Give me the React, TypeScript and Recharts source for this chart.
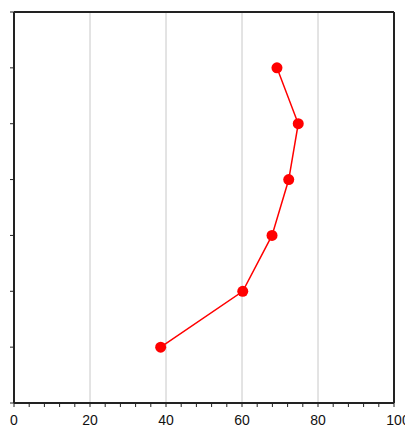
import React from "react";
import { LineChart, Line, XAxis, YAxis, ReferenceLine } from "recharts";

const xValues = [38.6, 60.2, 67.9, 72.3, 74.8, 69.2];
const yValues = [1, 2, 3, 4, 5, 6];
const xTicks = [0, 4, 8, 12, 16, 20, 24, 28, 32, 36, 40, 44, 48, 52, 56, 60, 64, 68, 72, 76, 80, 84, 88, 92, 96, 100];
const xLabels = [0, 20, 40, 60, 80, 100];
const yTicks = [0, 1, 2, 3, 4, 5, 6, 7];
const gridX = [20, 40, 60, 80];

const data = xValues.map((x, i) => ({ x, y: yValues[i] }));

const XTick = (props: any) => {
  const { x, y, payload } = props;
  if (!xLabels.includes(payload.value)) return <g />;
  const dx = payload.value === 100 ? 4 : 0;
  return (
    <text x={x + dx} y={y} dy="0.71em" textAnchor="middle" fontSize={14} fill="#111" fontFamily="Liberation Sans, Arial, sans-serif">
      {payload.value}
    </text>
  );
};

const EmptyTick = () => <g />;

export default function App() {
  return (
    <div style={{ position: "absolute", left: 0, top: 0, width: 405, height: 426, background: "#fff", overflow: "hidden" }}>
      <LineChart width={405} height={426} data={data} margin={{ top: 12, right: 11, bottom: 0, left: 0 }}>
        {gridX.map((g) => (
          <ReferenceLine key={g} x={g} stroke="#c8c8c8" strokeWidth={1} />
        ))}
        <ReferenceLine y={7} stroke="#222" strokeWidth={2} />
        <ReferenceLine x={100} stroke="#222" strokeWidth={2} />
        <XAxis
          dataKey="x"
          type="number"
          domain={[0, 100]}
          ticks={xTicks}
          interval={0}
          height={23}
          tickSize={4}
          tickMargin={8}
          tick={<XTick />}
          axisLine={{ stroke: "#222", strokeWidth: 2 }}
          tickLine={{ stroke: "#222", strokeWidth: 1 }}
        />
        <YAxis
          type="number"
          domain={[0, 7]}
          ticks={yTicks}
          interval={0}
          width={14}
          tickSize={4}
          tick={<EmptyTick />}
          axisLine={{ stroke: "#222", strokeWidth: 2 }}
          tickLine={{ stroke: "#222", strokeWidth: 1 }}
        />
        <Line
          dataKey="y"
          stroke="#ff0000"
          strokeWidth={1.5}
          dot={{ r: 5.5, fill: "#ff0000", stroke: "#ff0000", strokeWidth: 0 }}
          isAnimationActive={false}
        />
      </LineChart>
    </div>
  );
}
